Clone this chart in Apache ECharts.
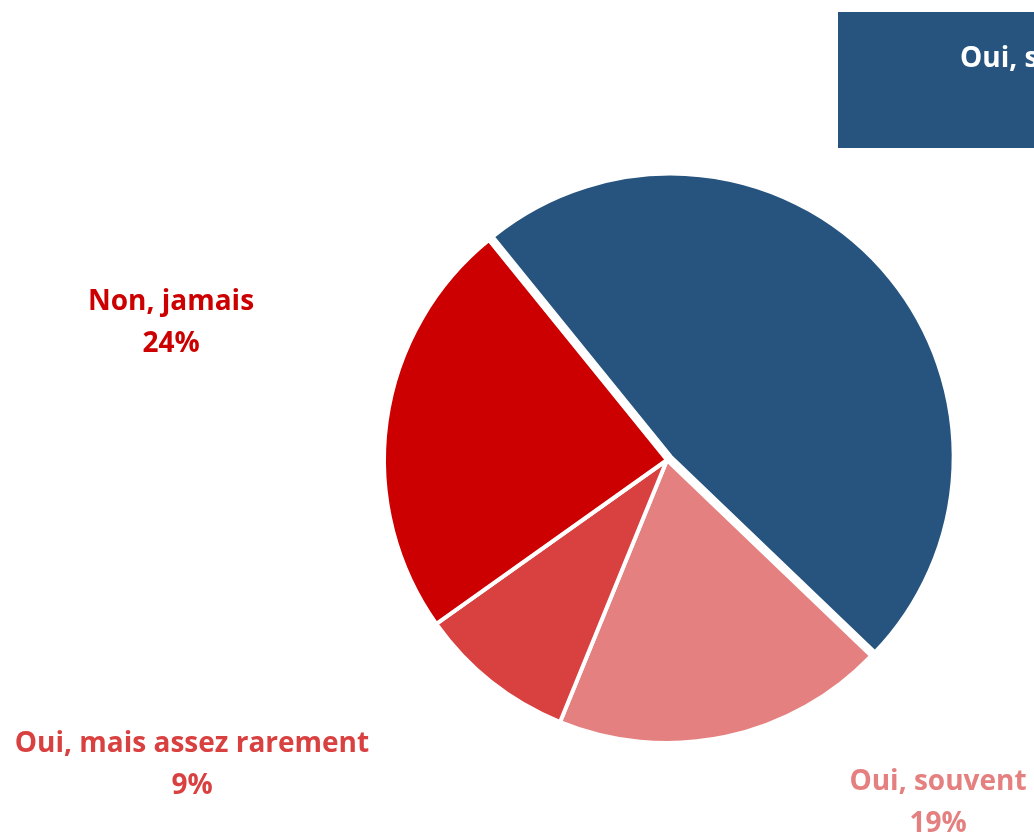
<!DOCTYPE html>
<html>
<head>
<meta charset="utf-8">
<script src="https://cdn.jsdelivr.net/npm/echarts@6/dist/echarts.min.js"></script>
<style>
html,body{margin:0;padding:0;background:#fff;}
#chart{width:1034px;height:833px;}
</style>
</head>
<body>
<div id="chart"></div>
<script>
const categories = ['Oui, systématiquement', 'Oui, souvent', 'Oui, mais assez rarement', 'Non, jamais'];
const values = [48, 19, 9, 24];
const colors = ['#27547E', '#E58080', '#D94141', '#CC0000'];

const FONT = 'Open Sans';
const FS = 28;
const ctx = document.createElement('canvas').getContext('2d');
ctx.font = 'bold ' + FS + 'px "' + FONT + '"';
const tw0 = ctx.measureText(categories[0]).width;
const blueX = 960 + tw0 / 2;
const blueW = 2 * (blueX - 838);

const labelPos = [
  {x: blueX, y: 80},
  {x: 938, y: 803},
  {x: 192, y: 765},
  {x: 171, y: 323}
];

const CX = 667, CY = 460, R = 283, START = 129;
// explode offset of the first slice along its mid-angle
const midA = (START - values[0] / 100 * 360 / 2) * Math.PI / 180;
const OFF = 5;
const bx = CX + OFF * Math.cos(midA), by = CY - OFF * Math.sin(midA);

const chart = echarts.init(document.getElementById('chart'), null, {renderer: 'canvas'});
chart.setOption({
  animation: false,
  backgroundColor: '#ffffff',
  series: [{
    type: 'pie',
    center: [CX, CY],
    radius: R,
    startAngle: START,
    clockwise: true,
    itemStyle: {borderColor: '#ffffff', borderWidth: 4},
    labelLine: {show: false},
    emphasis: {disabled: true},
    label: {
      show: true,
      position: 'outside',
      formatter: '{b}\n{c}%',
      fontFamily: FONT,
      fontWeight: 'bold',
      fontSize: FS,
      lineHeight: 42,
      align: 'center'
    },
    labelLayout: function (p) {
      const pos = labelPos[p.dataIndex];
      return {x: pos.x, y: pos.y, align: 'center', verticalAlign: 'middle'};
    },
    data: categories.map((c, i) => {
      const item = {
        name: c,
        value: values[i],
        itemStyle: {color: colors[i]},
        label: {color: colors[i]}
      };
      if (i === 0) {
        item.itemStyle = {color: 'rgba(0,0,0,0)', borderColor: 'rgba(0,0,0,0)'};
        item.label = {
          color: '#ffffff',
          backgroundColor: colors[0],
          width: blueW,
          padding: [26, 0, 26, 0],
          align: 'center'
        };
      }
      return item;
    })
  }, {
    type: 'pie',
    center: [bx, by],
    radius: R,
    startAngle: START,
    clockwise: true,
    silent: true,
    itemStyle: {borderColor: '#ffffff', borderWidth: 4},
    label: {show: false},
    labelLine: {show: false},
    emphasis: {disabled: true},
    data: categories.map((c, i) => ({
      name: c,
      value: values[i],
      itemStyle: i === 0 ? {color: colors[0]} : {color: 'rgba(0,0,0,0)', borderColor: 'rgba(0,0,0,0)'}
    }))
  }]
});
</script>
</body>
</html>
